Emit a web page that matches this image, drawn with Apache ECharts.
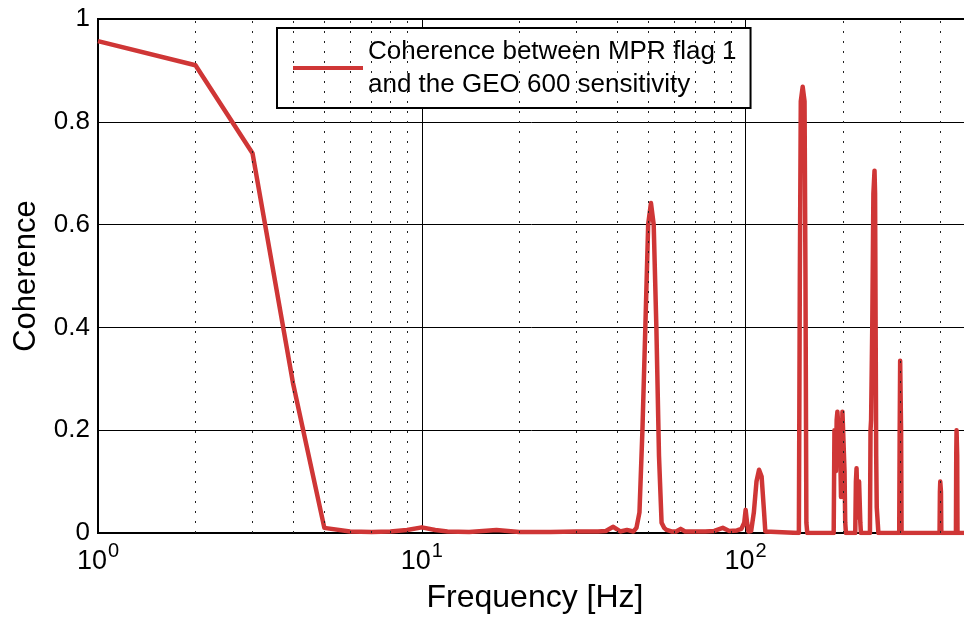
<!DOCTYPE html>
<html>
<head>
<meta charset="utf-8">
<script src="https://cdn.jsdelivr.net/npm/echarts@6/dist/echarts.min.js"></script>
<style>
html, body { margin: 0; padding: 0; background: #fff; }
#chart { width: 964px; height: 617px; }
</style>
</head>
<body>
<div id="chart"></div>
<script>
// frequency [Hz] and coherence
var freqs = [1, 2, 3, 4, 5, 6, 7, 8, 9, 10, 11, 12, 14, 17, 20, 25, 30, 35, 37, 39, 41, 43, 45,
    46, 47, 48, 49, 50, 51, 52, 53, 54, 55, 56, 57, 59, 61, 63, 65, 70, 75, 80, 85, 89, 94, 97,
    99, 100, 101, 102, 104, 106, 108, 110, 112, 114, 115, 116,
    146, 147, 148, 150, 152, 153, 154, 155,
    187, 188, 189, 190, 191, 192, 194, 196, 197, 198, 199, 201, 202, 203, 204,
    218, 219, 220, 221, 222, 223, 224, 225, 226, 227,
    242, 243, 244, 246, 248, 250, 251, 252, 253, 254, 256, 257,
    298, 299, 300, 301, 302, 303,
    397, 398, 399, 400, 401, 402,
    446, 447, 448, 449, 450, 451, 500];
var coherence = [0.957, 0.91, 0.739, 0.292, 0.01, 0.003, 0.002, 0.003, 0.006, 0.011, 0.006, 0.003, 0.002, 0.006, 0.002, 0.002, 0.003, 0.003, 0.004, 0.012, 0.003, 0.006, 0.003,
    0.01, 0.04, 0.2, 0.4, 0.6, 0.642, 0.6, 0.4, 0.15, 0.02, 0.01, 0.006, 0.003, 0.003, 0.008, 0.003, 0.003, 0.003, 0.004, 0.01, 0.004, 0.005, 0.008,
    0.02, 0.045, 0.02, 0.003, 0.004, 0.04, 0.1, 0.123, 0.11, 0.04, 0.003, 0,
    0, 0.5, 0.84, 0.868, 0.84, 0.5, 0.02, 0,
    0, 0.2, 0.2, 0.12, 0.22, 0.236, 0.236, 0.15, 0.07, 0.15, 0.236, 0.236, 0.12, 0.02, 0,
    0, 0.1, 0.126, 0.08, 0.03, 0.06, 0.1, 0.1, 0.02, 0,
    0, 0.2, 0.22, 0.4, 0.66, 0.705, 0.66, 0.4, 0.15, 0.05, 0.05, 0,
    0, 0.2, 0.335, 0.335, 0.2, 0,
    0, 0.08, 0.1, 0.1, 0.08, 0,
    0, 0.15, 0.2, 0.2, 0.15, 0, 0];
// dotted minor grid lines of the log axis
var minorFreqs = [2, 3, 4, 5, 6, 7, 8, 9, 20, 30, 40, 50, 60, 70, 80, 90, 200, 300, 400];
var seriesName = 'Coherence between MPR flag 1\nand the GEO 600 sensitivity';

var font = 'Liberation Sans, Arial, Helvetica, sans-serif';
var lineData = freqs.map(function (f, i) { return [f, coherence[i]]; });

var chart = echarts.init(document.getElementById('chart'));
chart.setOption({
    animation: false,
    backgroundColor: '#fff',
    textStyle: { fontFamily: font, color: '#000' },
    grid: {
        left: 98,
        top: 19,
        bottom: 84,
        right: -8,
        outerBoundsMode: 'none',
        show: true,
        borderColor: '#000',
        borderWidth: 2
    },
    legend: {
        data: [seriesName],
        left: 277,
        top: 28,
        padding: [7, 14, 7, 16],
        icon: 'rect',
        itemWidth: 70,
        itemHeight: 4,
        backgroundColor: '#fff',
        borderColor: '#000',
        borderWidth: 2,
        borderRadius: 0,
        textStyle: { fontSize: 26, lineHeight: 33, color: '#000', fontFamily: font }
    },
    xAxis: {
        type: 'log',
        logBase: 10,
        min: 1,
        max: 500,
        name: 'Frequency [Hz]',
        nameLocation: 'middle',
        nameGap: 49,
        nameMoveOverlap: false,
        nameTextStyle: { fontSize: 32, color: '#000', fontFamily: font },
        axisLine: { show: true, lineStyle: { color: '#000', width: 2 } },
        axisTick: { show: true, inside: true, length: 6, lineStyle: { color: '#000', width: 1 } },
        splitLine: { show: true, lineStyle: { color: '#000', width: 1 } },
        axisLabel: {
            margin: 12,
            showMaxLabel: false,
            formatter: function (v) {
                var e = Math.log10(v);
                if (Math.abs(e - Math.round(e)) > 1e-6) {
                    return '';
                }
                return '{a|10}{b|' + Math.round(e) + '}';
            },
            rich: {
                a: { fontSize: 27, fontFamily: font, color: '#000', verticalAlign: 'bottom', lineHeight: 30 },
                b: { fontSize: 20, fontFamily: font, color: '#000', verticalAlign: 'bottom', lineHeight: 20, padding: [0, 0, 14, 1] }
            }
        }
    },
    yAxis: {
        type: 'value',
        min: 0,
        max: 1,
        interval: 0.2,
        name: 'Coherence',
        nameLocation: 'middle',
        nameGap: 56,
        nameMoveOverlap: false,
        nameTextStyle: { fontSize: 31, color: '#000', fontFamily: font },
        axisLine: { show: true, lineStyle: { color: '#000', width: 2 } },
        axisTick: { show: true, inside: true, length: 6, lineStyle: { color: '#000' } },
        splitLine: { show: true, lineStyle: { color: '#000', width: 1 } },
        axisLabel: { fontSize: 26, color: '#000', margin: 8, fontFamily: font }
    },
    series: [
        {
            name: 'minor grid',
            type: 'line',
            data: [],
            silent: true,
            z: 1,
            markLine: {
                silent: true,
                symbol: 'none',
                label: { show: false },
                lineStyle: { color: '#222', width: 1, type: [2, 8] },
                data: minorFreqs.map(function (f) { return { xAxis: f }; })
            }
        },
        {
            name: seriesName,
            type: 'line',
            data: lineData,
            symbol: 'none',
            z: 3,
            color: '#cf3636',
            lineStyle: { color: '#cf3636', width: 4.5, join: 'round' },
            itemStyle: { color: '#cf3636' }
        }
    ]
});
</script>
</body>
</html>
